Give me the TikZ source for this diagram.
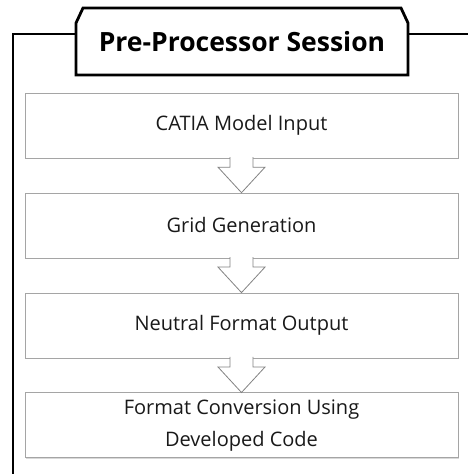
\documentclass[tikz,border=0pt]{standalone}
\usepackage{fontspec}
\setmainfont{Open Sans}
\usetikzlibrary{positioning, calc, shadows}
\definecolor{boxgray}{RGB}{165,165,165}
\definecolor{arrowgray}{RGB}{130,130,130}
\definecolor{txtdark}{RGB}{25,25,25}

% block arrow from the bottom of one stage to the top of the next
\newcommand{\flowarrow}[2]{%
  \filldraw[blk] ($(#1.south)+(-11.5,1)$) -- ++(0,-10) -- ++(-12,0)
    -- (#2.north) -- ($(#1.south)+(23.5,-9)$) -- ++(-12,0) -- ++(0,10);}

\begin{document}
\begin{tikzpicture}[
      x=1pt, y=1pt,
      node distance=34.5pt,
      stage/.style={draw=boxgray, fill=white, minimum width=433pt,
                    minimum height=65pt, align=center, text=txtdark,
                    font=\fontsize{20}{32}\selectfont,
                    drop shadow={shadow xshift=1pt, shadow yshift=-1.5pt,
                                 opacity=0.3}},
      titlebox/.style={minimum width=332pt, minimum height=67pt,
                       outer sep=0pt, font=\fontsize{26.5}{30}\selectfont\bfseries},
      frame/.style={line width=2.8pt, black, line join=miter},
      blk/.style={draw=arrowgray, fill=white, line width=0.8pt, line join=miter}
    ]
    \useasboundingbox (0,0) rectangle (467,474);
    \coordinate (fr) at (13,440);

    % title tab with cut top corners
    \node[titlebox] (title) at (242,432.5) {Pre-Processor Session};
    \draw[frame, fill=white] (title.south west) -- ($(title.north west)+(0,-15)$)
      -- ($(title.north west)+(7,0)$) -- ($(title.north east)+(-7,0)$)
      -- ($(title.north east)+(0,-15)$) -- (title.south east) -- cycle;
    \node[titlebox] at (title) {Pre-Processor Session};

    % session frame
    \draw[frame] (title.west |- fr) -- (fr) -- (13,-10);
    \draw[frame] (title.east |- fr) -- (480,440);

    % stages
    \node[stage] (s1) at (241.5,348.5) {CATIA Model Input};
    \node[stage, below=of s1] (s2) {Grid Generation};
    \node[stage, below=of s2] (s3) {Neutral Format Output};
    \node[stage, below=of s3] (s4) {Format Conversion Using\\Developed Code};

    \flowarrow{s1}{s2}
    \flowarrow{s2}{s3}
    \flowarrow{s3}{s4}
  \end{tikzpicture}
\end{document}
